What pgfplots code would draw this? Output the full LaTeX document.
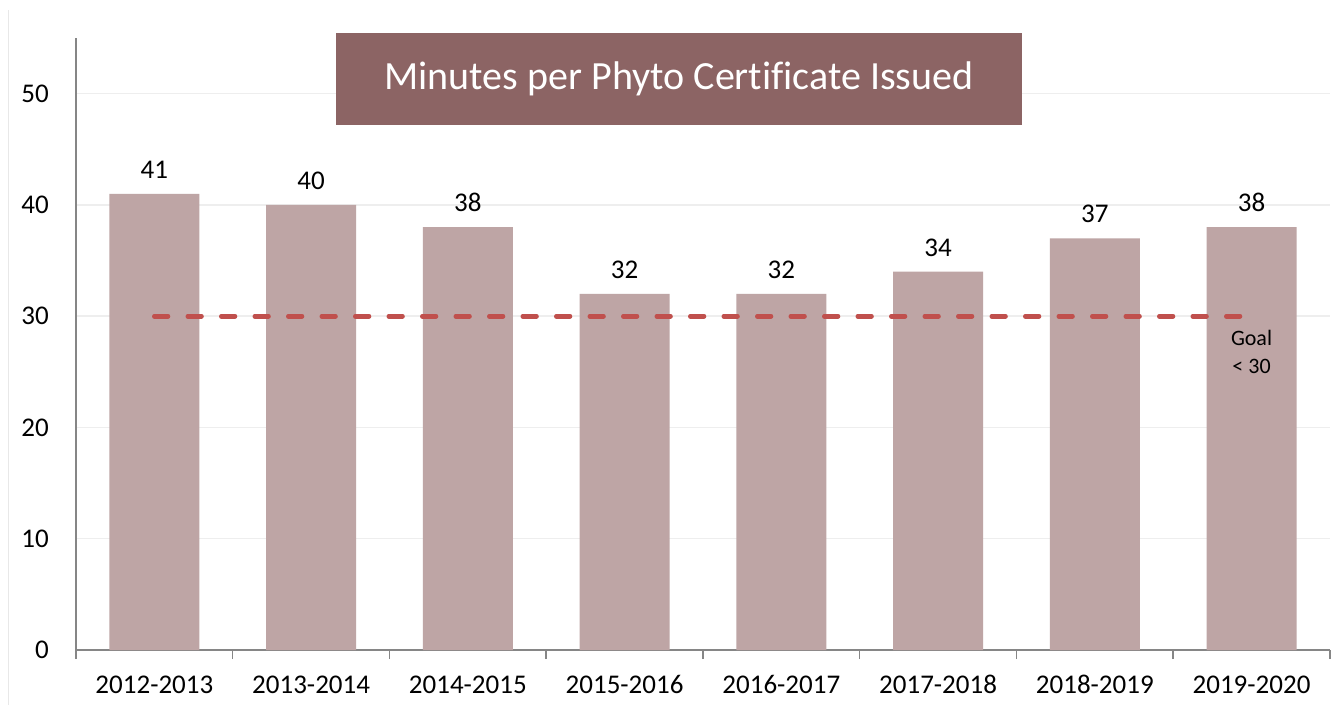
\documentclass[border=0pt]{standalone}
\usepackage{fontspec}
\setmainfont{Carlito}[Ligatures=NoCommon]
\usepackage{pgfplots}
\pgfplotsset{compat=1.18}
\definecolor{barc}{HTML}{BEA5A5}
\definecolor{titlec}{HTML}{8C6464}
\definecolor{goalc}{HTML}{C0504D}
\definecolor{axc}{HTML}{868686}
\definecolor{gridc}{HTML}{EEEEEE}
\definecolor{framec}{HTML}{E8E8E8}
\begin{document}
\begin{tikzpicture}
\useasboundingbox (0pt,0pt) rectangle (1333pt,705pt);
\fill[white] (0pt,0pt) rectangle (1333pt,705pt);
\draw[framec, line width=1pt] (8pt,0pt) -- (8pt,695pt);
\begin{axis}[
  at={(76pt,55pt)}, anchor=south west, scale only axis,
  width=1254pt, height=612pt,
  xmin=-0.5, xmax=7.5, ymin=0, ymax=55,
  axis x line*=bottom, axis y line*=left,
  axis line style={axc, line width=1.5pt},
  xtick={0,...,7},
  xticklabels={2012-2013,2013-2014,2014-2015,2015-2016,2016-2017,2017-2018,2018-2019,2019-2020},
  minor xtick={-0.5,0.5,...,7.5},
  major tick length=0pt,
  minor tick length=9pt,
  tick align=outside,
  minor x tick style={axc, line width=1.5pt},
  ytick={0,10,...,50},
  ymajorgrids,
  grid style={gridc, line width=1.5pt},
  ticklabel style={font=\fontsize{27}{31}\selectfont, text=black},
  xticklabel style={anchor=base, yshift=-43pt},
  yticklabel style={anchor=east, inner sep=0pt, xshift=-27pt},
  /pgf/number format/assume math mode=true,
  clip=false,
]
\addplot[ybar, bar width=90pt, fill=barc, draw=none,
  nodes near coords,
  every node near coord/.append style={font=\fontsize{27}{31}\selectfont, anchor=base, yshift=15.5pt, text=black}]
  coordinates {(0,41) (1,40) (2,38) (3,32) (4,32) (5,34) (6,37) (7,38)};
\addplot[goalc, line width=4.7pt, line cap=round, dash pattern=on 13.6pt off 19.9pt, mark=none]
  coordinates {(0,30) (7,30)};
\node[anchor=base, yshift=-29pt, font=\fontsize{22}{26}\selectfont] at (axis cs:7,30) {Goal};
\node[anchor=base, yshift=-57pt, font=\fontsize{22}{26}\selectfont] at (axis cs:7,30) {< 30};
\end{axis}
\node[fill=titlec, text=white, minimum width=686pt, minimum height=92pt, inner sep=0pt,
  font=\fontsize{40}{46}\selectfont] at (679pt,626pt) {Minutes per Phyto Certificate Issued};
\end{tikzpicture}
\end{document}
